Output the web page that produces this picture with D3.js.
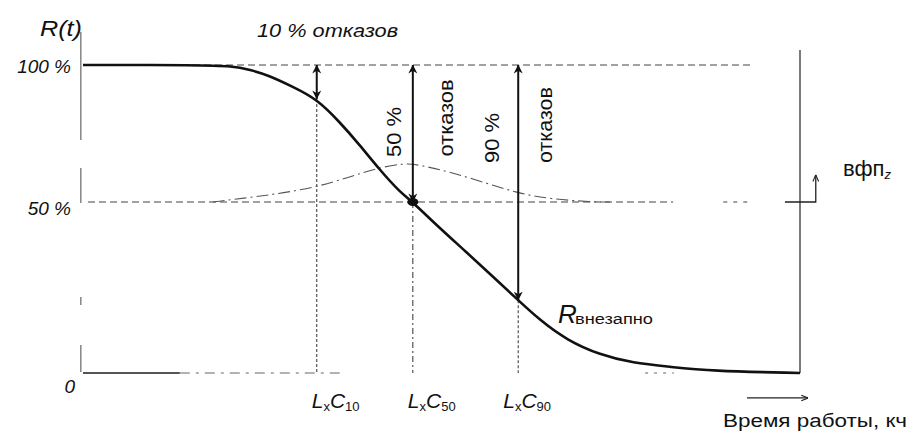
<!DOCTYPE html>
<html><head><meta charset="utf-8">
<script src="https://cdn.jsdelivr.net/npm/d3@7/dist/d3.min.js"></script>
<style>
html,body{margin:0;padding:0;background:#fff;}
svg{display:block;font-family:"Liberation Sans",Arial,sans-serif;}
</style></head><body>
<svg id="chart" width="909" height="433"></svg>
<script>
// ---- data (time in arbitrary units 0..100, reliability R in %) ----
const timeVals    = [0,16.3,20.9,23.3,25.7,29.3,32.6,35.8,38.6,41.4,44.2,46.0,48.8,53.6,57.2,60.7,63.7,67.5,72.1,76.7,81.9,87.4,100];
const reliability = [100,100,99.6,98.2,96.4,92.0,87.6,79.2,70.8,61.7,53.6,50,44.2,35.1,28.1,21.3,15.5,9.6,5.3,2.9,1.8,0.6,0];
const densityTime = [18.1,23.7,27.9,32.6,37.2,41.0,44.9,47.0,51.2,55.8,60.5,65.1,71.1,73.5];
const densityVals = [50,51.8,53.3,55.5,59.1,62.4,64.2,63.5,60.9,57.3,53.3,51.1,50,50];
const lifeTicks   = [32.6,46.0,60.7];          // LxC10, LxC50, LxC90
const lifeR       = [87.6,50,21.3];            // R at those times
const lifeSub     = ["10","50","90"];
const yTickVals   = [100,50,0];
const yTickLabels = ["100 %","50 %","0"];

const svg = d3.select("#chart");
const x = d3.scaleLinear().domain([0,100]).range([83,800]);
const y = d3.scaleLinear().domain([0,50,100]).range([373,202,65]);

const defs = svg.append("defs");
defs.append("marker").attr("id","ah").attr("viewBox","0 0 10 10")
  .attr("refX",9.5).attr("refY",5).attr("markerWidth",9).attr("markerHeight",10)
  .attr("markerUnits","userSpaceOnUse").attr("orient","auto-start-reverse")
  .append("path").attr("d","M0,0 L10,5 L0,10 L3,5 z").attr("fill","#111");
defs.append("marker").attr("id","ahs").attr("viewBox","0 0 10 10")
  .attr("refX",9.5).attr("refY",5).attr("markerWidth",7).attr("markerHeight",8)
  .attr("markerUnits","userSpaceOnUse").attr("orient","auto")
  .append("path").attr("d","M0,1 L10,5 L0,9").attr("fill","none").attr("stroke","#222").attr("stroke-width",1.5);

const seg = (t1,r1,t2,r2) => [[t1,r1],[t2,r2]];
const lineGen = d3.line().x(d=>x(d[0])).y(d=>y(d[1]));

// ---- y axis (broken) ----
[seg(-0.3,112,-0.3,72.6), seg(-0.3,62.4,-0.3,49.7), seg(-0.3,22.2,-0.3,19.9), seg(-0.3,8.2,-0.3,0.3)]
  .forEach(s=>svg.append("path").attr("d",lineGen(s)).attr("stroke","#666").attr("stroke-width",1.2).attr("fill","none"));

// ---- bottom axis ----
svg.append("path").attr("d",lineGen(seg(0,0,13.5,0))).attr("stroke","#555").attr("stroke-width",2).attr("fill","none");
svg.append("path").attr("d",lineGen(seg(13.5,0,35.8,0))).attr("stroke","#666").attr("stroke-width",1.2)
  .attr("stroke-dasharray","10,6,3,6").attr("fill","none");
svg.append("path").attr("d",lineGen(seg(78.4,0,82.4,0))).attr("stroke","#666").attr("stroke-width",1.2)
  .attr("stroke-dasharray","3,6").attr("fill","none");

// ---- right vertical line ----
svg.append("path").attr("d",lineGen(seg(100,105.5,100,0))).attr("stroke","#333").attr("stroke-width",1.3).attr("fill","none");

// ---- reference dashed lines ----
svg.append("path").attr("d",lineGen(seg(0,100,93.3,100))).attr("stroke","#444").attr("stroke-width",1.1)
  .attr("stroke-dasharray","7,4").attr("fill","none");
svg.append("path").attr("d",lineGen(seg(0.7,50,82.3,50))).attr("stroke","#444").attr("stroke-width",1.1)
  .attr("stroke-dasharray","7,4").attr("fill","none");
svg.append("path").attr("d",lineGen(seg(89.3,50,93.3,50))).attr("stroke","#444").attr("stroke-width",1.1)
  .attr("stroke-dasharray","4,6").attr("fill","none");

// vertical drop lines at LxC
lifeTicks.forEach((t,i)=>{
  svg.append("path").attr("d",lineGen(seg(t,lifeR[i],t,0))).attr("stroke","#444").attr("stroke-width",1.1)
    .attr("stroke-dasharray", i===1 ? "6,3,2,3" : "3,2").attr("fill","none");
});

// ---- density (bell) curve ----
svg.append("path").datum(densityTime.map((t,i)=>[t,densityVals[i]]))
  .attr("d",d3.line().x(d=>x(d[0])).y(d=>y(d[1])).curve(d3.curveBasis))
  .attr("stroke","#555").attr("stroke-width",1.1).attr("stroke-dasharray","12,4,2,4").attr("fill","none");

// ---- reliability curve ----
svg.append("path").datum(timeVals.map((t,i)=>[t,reliability[i]]))
  .attr("d",d3.line().x(d=>x(d[0])).y(d=>y(d[1])).curve(d3.curveBasis))
  .attr("stroke","#111").attr("stroke-width",2.6).attr("fill","none");

// ---- double arrows ----
lifeTicks.forEach((t,i)=>{
  svg.append("path").attr("d",lineGen(seg(t,100,t,lifeR[i])))
    .attr("stroke","#111").attr("stroke-width",2).attr("fill","none")
    .attr("marker-start","url(#ah)").attr("marker-end","url(#ah)");
});
svg.append("ellipse").attr("cx",x(lifeTicks[1])).attr("cy",y(50)).attr("rx",5.5).attr("ry",4).attr("fill","#111");

// ---- small вфп arrow ----
svg.append("path").attr("d",lineGen([[97.9,50],[102.2,50],[102.2,59.9]]))
  .attr("stroke","#222").attr("stroke-width",1.3).attr("fill","none").attr("marker-end","url(#ahs)");

// ---- time arrow ----
svg.append("path").attr("d",lineGen(seg(92.6,-7.3,101.1,-7.3)))
  .attr("stroke","#222").attr("stroke-width",1.3).attr("fill","none").attr("marker-end","url(#ahs)");

// ---- texts ----
const T = (xx,yy,txt,opt={}) => {
  const t = svg.append("text").attr("x",xx).attr("y",yy).text(txt)
    .attr("font-size",opt.size||18).attr("fill","#111")
    .attr("font-style",opt.italic?"italic":"normal")
    .attr("text-anchor",opt.anchor||"start");
  if(opt.len) t.attr("textLength",opt.len).attr("lengthAdjust","spacingAndGlyphs");
  return t;
};
T(40,36,"R(t)",{size:22,italic:true,len:42});
const yLabelDy = [8,13,20];
yTickVals.forEach((v,i)=>T(i===2?75:71, y(v)+yLabelDy[i], yTickLabels[i], {size:19,italic:true,anchor:"end"}));
T(257,37,"10 % отказов",{size:18,italic:true,len:141});

// rotated labels
const R = (cx,cy,txt,len) => svg.append("text")
  .attr("transform",`translate(${cx},${cy}) rotate(-90)`)
  .attr("text-anchor","middle").attr("dy","0.36em")
  .attr("font-size",20).attr("fill","#111").attr("textLength",len).attr("lengthAdjust","spacingAndGlyphs").text(txt);
R(394,132,"50 %",50);
R(446,118,"отказов",77);
R(492,138,"90 %",50);
R(545,125,"отказов",76);

// LxC labels
const labelDx = [-5,-5,-15];
lifeTicks.forEach((t,i)=>{
  const tx = svg.append("text").attr("x",x(t)+labelDx[i]).attr("y",408).attr("fill","#111").attr("font-size",21);
  tx.append("tspan").attr("font-style","italic").text("L");
  tx.append("tspan").attr("font-size",13).attr("dy",3).text("x");
  tx.append("tspan").attr("font-style","italic").attr("dy",-3).text("C");
  tx.append("tspan").attr("font-size",13).attr("dy",3).text(lifeSub[i]);
});

// R внезапно
T(558,323,"R",{size:26,italic:true});
T(575,324,"внезапно",{size:14,len:78});

// вфп_z
const v = svg.append("text").attr("x",843).attr("y",176).attr("font-size",22).attr("fill","#111");
v.append("tspan").text("вфп");
v.append("tspan").attr("font-size",13).attr("font-style","italic").attr("dy",3).text("z");

T(723,427,"Время работы, кч",{size:18,len:184});
</script>
</body></html>
